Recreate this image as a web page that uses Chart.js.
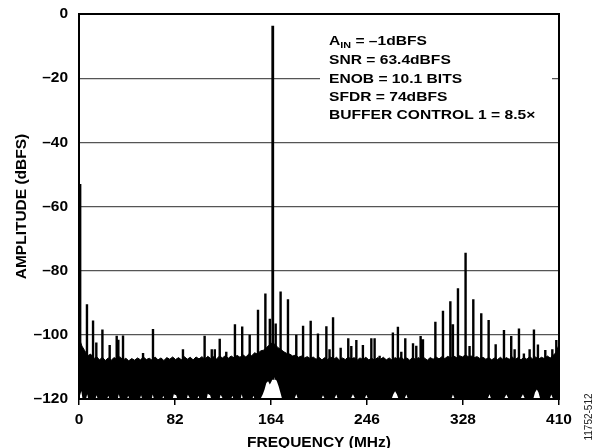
<!DOCTYPE html>
<html>
<head>
<meta charset="utf-8">
<script src="https://cdn.jsdelivr.net/npm/chart.js@4.4.1/dist/chart.umd.min.js"></script>
<style>
  html, body { margin: 0; padding: 0; background: #fff; overflow: hidden; }
  #wrap { width: 594px; height: 448px; }
</style>
</head>
<body>
<div id="wrap"><canvas id="myChart" width="594" height="448"></canvas></div>
<script>
// axis ticks
var xTicks = [0, 82, 164, 246, 328, 410];
var yTicks = [0, -20, -40, -60, -80, -100, -120];

// fundamental tone
var carrierFreq = 165.5;
var carrierLevel = -3.7;

// spurs / harmonics above the noise (MHz, dBFS)
var spurFreq = [1, 6.8, 12, 14.8, 20, 26.2, 32.2, 33.6, 37.6, 54.7,
  63.2, 88.8, 107.3, 113.4, 116, 120.2, 125.8, 133.2, 139.4, 145.8,
  152.9, 159.2, 163, 168, 172.2, 178.5, 185.6, 191.4, 197.9, 204.1,
  211.3, 214, 217, 223.5, 230, 232.6, 236.9, 242.5, 249.7, 252.5,
  256.8, 268.1, 272.4, 275.3, 278.7, 285.3, 288.1, 291.8, 293.8, 304.4,
  310.9, 317.2, 319.4, 323.7, 330.2, 333.6, 336.8, 343.6, 349.9, 355.9,
  363, 369.2, 372.1, 375.8, 380, 384.9, 388.6, 392, 398.3, 404.3,
  407.7];
var spurLevel = [-53, -90.5, -95.5, -102.4, -98.3, -103.2, -100.3, -101.5, -100.2, -105.7,
  -98.2, -104.5, -100.3, -104.5, -104.5, -101.2, -105.3, -96.7, -97.4, -100,
  -92.2, -87.1, -95, -96.5, -86.5, -88.9, -100, -97.2, -95.6, -99.6,
  -97.3, -104.5, -94.5, -104, -101.1, -103.5, -101.6, -103.2, -101.1, -101.1,
  -106.5, -99.3, -97.5, -105.3, -101.1, -102.6, -103.4, -100.4, -101.4, -95.9,
  -92.5, -89.5, -96.7, -85.5, -74.4, -103.5, -88.9, -93.3, -95.4, -102.9,
  -98.5, -100.4, -104.5, -98, -105.8, -104.5, -98.3, -103, -104.7, -104.5,
  -101.6];

// top of the noise band, one value every 2.5 MHz from 0 to 410
var noiseStep = 2.5;
var noiseTop = [
  -101, -103.5, -105, -106.5, -106, -107.5, -106.8, -107.8, -107, -108,
  -107.2, -107.9, -107.1, -107.6, -106.8, -107.9, -107.3, -108.1, -107.4, -107.9,
  -107.2, -107.8, -106.9, -107.7, -107.3, -107.9, -106.9, -107.8, -107.2, -108,
  -107.1, -107.6, -106.9, -107.7, -107.1, -107.8, -106.8, -107.6, -107, -107.8,
  -106.9, -107.5, -106.8, -107.6, -106.7, -107.4, -106.8, -107.5, -106.6, -107.2,
  -106.5, -107.3, -106.6, -107.2, -106.4, -107, -106.2, -106.9, -106, -106.5,
  -105.6, -106, -105, -104.8, -104, -103.2, -102.5, -103, -104, -104.6,
  -105.3, -105.8, -106, -106.6, -106.3, -107, -106.6, -107.2, -106.8, -107.4,
  -106.9, -107.6, -107, -107.8, -107.1, -107.7, -106.9, -107.6, -107, -107.9,
  -107.2, -107.7, -106.9, -107.6, -107.1, -107.9, -107.2, -107.7, -107, -107.8,
  -107.3, -107.9, -107.1, -107.6, -107, -107.8, -107.2, -107.9, -107.1, -107.6,
  -106.9, -107.7, -107.2, -107.9, -107, -107.7, -107.1, -107.8, -107.2, -107.9,
  -107.1, -107.6, -106.9, -107.5, -106.8, -107.4, -106.7, -107.2, -106.6, -107.1,
  -106.5, -106.9, -106.3, -106.8, -106.6, -107.1, -106.8, -107.4, -107, -107.6,
  -107.1, -107.8, -107.2, -107.7, -107, -107.8, -107.1, -107.6, -106.9, -107.7,
  -107.1, -107.8, -107, -107.6, -106.8, -107.5, -106.9, -107.6, -107, -107.4,
  -106.6, -107.2, -106.4, -105.5, -103];

// lowest reach of the noise (white gaps at the floor)
var floorFreq = [0, 2, 3, 6, 7, 8, 14, 15, 16, 24, 25, 26, 33, 34, 35, 41, 42, 43,
  52, 53, 54, 62, 63, 64, 71, 72, 73, 80, 81, 83, 84, 92, 93, 95, 101, 102, 103,
  109, 110, 112, 113, 120, 121, 123, 130, 131, 132, 138, 139, 140, 148, 149, 150,
  155, 157, 158.5, 160, 161.5, 163, 164.5, 166, 167.5, 169, 170.5, 172, 173.5,
  184, 185.6, 187, 207, 208.4, 210, 218, 219.8, 221, 232, 234, 236, 244, 245.4, 247,
  267, 268.5, 270, 271.5, 273, 278, 279.6, 281, 318, 319.4, 321, 349, 350.7, 352,
  363, 365, 367, 377, 379.2, 381, 388, 389.5, 391.1, 392.5, 394, 402, 403.4, 405, 410];
var floorLevel = [-120, -117.5, -120, -120, -118.5, -120, -120, -118.8, -120, -120, -119, -120, -120, -118.5, -120, -120, -119, -120,
  -120, -118.8, -120, -120, -118.6, -120, -120, -119, -120, -120, -118.5, -118.8, -120, -120, -118.7, -120, -120, -119, -120,
  -120, -118.4, -118.8, -120, -120, -118.7, -120, -120, -119, -120, -120, -118.5, -120, -120, -119, -120,
  -120, -118.5, -117, -115, -114.5, -115.5, -114.5, -113, -113.5, -114.5, -116, -118, -120,
  -120, -118.5, -120, -120, -118.8, -120, -120, -118.6, -120, -120, -118.5, -120, -120, -118.7, -120,
  -120, -118.5, -117.6, -118.5, -120, -120, -118.6, -120, -120, -118.6, -120, -120, -118.5, -120,
  -120, -118.6, -120, -120, -118.5, -120, -120, -118, -117, -118, -120, -120, -118.6, -120, -120];

var noiseData = noiseTop.map(function (v, i) { return { x: i * noiseStep, y: v }; });
var floorData = floorFreq.map(function (f, i) { return { x: f, y: floorLevel[i] }; });
var spurData = [];
spurFreq.forEach(function (f, i) {
  spurData.push({ x: f, y: -114 }, { x: f, y: spurLevel[i] }, { x: f, y: null });
});
var carrierData = [{ x: carrierFreq, y: -114 }, { x: carrierFreq, y: carrierLevel }];

var FONT = '"Liberation Sans", Arial, Helvetica, sans-serif';
Chart.defaults.font.family = FONT;
Chart.defaults.color = '#000';

function stretchText(ctx, txt, x, y, sx) {
  ctx.save();
  ctx.translate(x, y);
  ctx.scale(sx, 1);
  ctx.fillText(txt, 0, 0);
  var w = ctx.measureText(txt).width * sx;
  ctx.restore();
  return w;
}

// text box, frame and figure number
var extras = {
  id: 'extras',
  beforeDatasetsDraw: function (chart) {
    var ctx = chart.ctx, a = chart.chartArea;
    ctx.save();
    ctx.fillStyle = '#fff';
    ctx.fillRect(a.left + 241, a.top + 16, 232, 94);
    ctx.fillStyle = '#000';
    ctx.textBaseline = 'middle';
    ctx.textAlign = 'left';
    var x = a.left + 250, sx = 1.2;
    var rows = [27.7, 46, 65, 83.3, 101.7];
    ctx.font = 'bold 13px ' + FONT;
    var w = stretchText(ctx, 'A', x, a.top + rows[0], sx);
    ctx.font = 'bold 9px ' + FONT;
    var w2 = stretchText(ctx, 'IN', x + w, a.top + rows[0] + 4, sx);
    ctx.font = 'bold 13px ' + FONT;
    stretchText(ctx, ' = \u20131dBFS', x + w + w2, a.top + rows[0], sx);
    stretchText(ctx, 'SNR = 63.4dBFS', x, a.top + rows[1], sx);
    stretchText(ctx, 'ENOB = 10.1 BITS', x, a.top + rows[2], sx);
    stretchText(ctx, 'SFDR = 74dBFS', x, a.top + rows[3], sx);
    stretchText(ctx, 'BUFFER CONTROL 1 = 8.5\u00d7', x, a.top + rows[4], sx);
    ctx.restore();
  },
  afterDatasetsDraw: function (chart) {
    var ctx = chart.ctx, a = chart.chartArea;
    ctx.save();
    ctx.strokeStyle = '#000';
    ctx.lineWidth = 2;
    ctx.strokeRect(a.left, a.top, a.right - a.left, a.bottom - a.top);
    // figure id
    ctx.translate(589, 417);
    ctx.rotate(-Math.PI / 2);
    ctx.font = '10px ' + FONT;
    ctx.fillStyle = '#222';
    ctx.textAlign = 'center';
    ctx.textBaseline = 'middle';
    ctx.fillText('11752-512', 0, 0);
    ctx.restore();
  }
};

const ctx = document.getElementById('myChart');
const myChart = new Chart(ctx, {
  type: 'line',
  data: {
    datasets: [
      {
        data: carrierData,
        borderColor: '#000',
        borderWidth: 2.8,
        pointRadius: 0,
        order: 0
      },
      {
        data: spurData,
        borderColor: '#000',
        borderWidth: 2.4,
        pointRadius: 0,
        spanGaps: false,
        order: 1
      },
      {
        data: floorData,
        borderWidth: 0,
        borderColor: '#fff',
        backgroundColor: '#fff',
        pointRadius: 0,
        fill: 'start',
        order: 2
      },
      {
        data: noiseData,
        borderColor: '#000',
        borderWidth: 1,
        backgroundColor: '#000',
        pointRadius: 0,
        fill: 'start',
        order: 3
      }
    ]
  },
  options: {
    responsive: false,
    animation: false,
    devicePixelRatio: 1,
    layout: { padding: { top: 14, right: 35, left: 0, bottom: 0 } },
    elements: { line: { tension: 0 } },
    plugins: {
      legend: { display: false },
      tooltip: { enabled: false }
    },
    scales: {
      x: {
        type: 'linear',
        min: 0,
        max: 410,
        afterBuildTicks: function (scale) {
          scale.ticks = xTicks.map(function (v) { return { value: v }; });
        },
        afterFit: function (scale) {
          scale.height = 49;
          scale.paddingLeft = 0;
          scale.paddingRight = 0;
        },
        grid: { drawOnChartArea: false, drawTicks: true, tickLength: 6, color: '#000', lineWidth: 1.5 },
        border: { display: false },
        ticks: { padding: 5, maxRotation: 0, font: { size: 15.5, weight: 'bold' }, color: '#000' },
        title: {
          display: true,
          text: 'FREQUENCY (MHz)',
          font: { size: 15.5, weight: 'bold' },
          padding: { top: 0, bottom: -4 }
        }
      },
      y: {
        min: -120,
        max: 0,
        afterBuildTicks: function (scale) {
          scale.ticks = yTicks.map(function (v) { return { value: v }; });
        },
        afterFit: function (scale) {
          scale.width = 79;
          scale.paddingTop = 0;
          scale.paddingBottom = 0;
        },
        grid: { color: '#555', lineWidth: 1.2, drawTicks: false },
        border: { display: false },
        ticks: {
          padding: 11,
          font: { size: 15.5, weight: 'bold' },
          color: '#000',
          callback: function (v) { return v < 0 ? '\u2013' + Math.abs(v) : String(v); }
        },
        title: {
          display: true,
          text: 'AMPLITUDE (dBFS)',
          font: { size: 15.5, weight: 'bold' },
          padding: { top: 12, bottom: 0 }
        }
      }
    }
  },
  plugins: [extras]
});
</script>
</body>
</html>
